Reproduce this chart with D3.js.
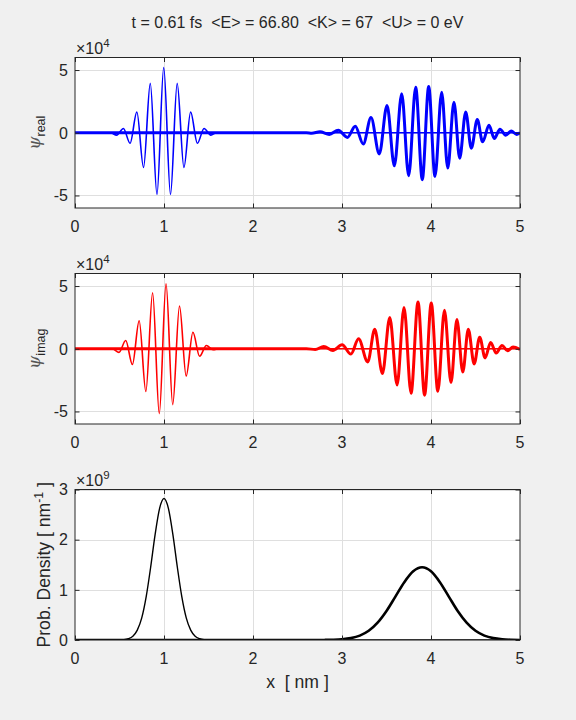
<!DOCTYPE html>
<html>
<head>
<meta charset="utf-8">
<script src="https://cdn.jsdelivr.net/npm/d3@7"></script>
<style>
  body { margin: 0; background: #f0f0f0; }
  svg { display: block; }
  text { font-family: 'Liberation Sans', Arial, sans-serif; fill: #262626; white-space: pre; }
</style>
</head>
<body>
<svg id="fig" width="576" height="720"></svg>
<script>
;(function (d3) {
  var titleText = 't = 0.61 fs  <E> = 66.80  <K> = 67  <U> = 0 eV'
  var xTicks = [0, 1, 2, 3, 4, 5]
  var psiTicks = [-5, 0, 5]
  var probTicks = [0, 1, 2, 3]

  // wave extrema (units of 1e4)
  var realInitX = [0, 0.40, 0.468, 0.544, 0.619, 0.695, 0.770, 0.846, 0.921, 0.997, 1.073, 1.148, 1.224, 1.299, 1.375, 1.450, 1.526, 1.59, 5]
  var realInitY = [0, 0, -0.19, 0.34, -0.84, 1.65, -2.77, 3.94, -4.92, 5.2, -4.92, 3.94, -2.77, 1.65, -0.84, 0.34, -0.19, 0, 0]
  var realNowX = [0, 2.60, 2.66, 2.753, 2.857, 2.958, 3.06, 3.149, 3.239, 3.326, 3.419, 3.506, 3.588, 3.671, 3.749, 3.828, 3.902, 3.974, 4.045, 4.12, 4.188, 4.258, 4.322, 4.39, 4.453, 4.52, 4.58, 4.652, 4.711, 4.775, 4.839, 4.902, 4.963, 5.0]
  var realNowY = [0, 0, -0.04, 0.07, -0.13, 0.2, -0.37, 0.52, -0.9, 1.21, -1.69, 2.18, -2.64, 3.1, -3.43, 3.62, -3.74, 3.68, -3.48, 3.23, -2.82, 2.44, -2.03, 1.65, -1.24, 1.05, -0.72, 0.6, -0.45, 0.28, -0.19, 0.13, -0.13, 0]

  var imagInitX = [0, 0.42, 0.494, 0.570, 0.645, 0.721, 0.796, 0.872, 0.947, 1.023, 1.098, 1.174, 1.249, 1.325, 1.400, 1.476, 1.551, 1.62, 5]
  var imagInitY = [0, 0, -0.29, 0.66, -1.26, 2.23, -3.41, 4.46, -5.17, 5.17, -4.46, 3.41, -2.18, 1.31, -0.6, 0.26, -0.08, 0, 0]
  var imagNowX = [0, 2.60, 2.70, 2.795, 2.898, 3.001, 3.1, 3.186, 3.289, 3.368, 3.454, 3.537, 3.619, 3.697, 3.776, 3.854, 3.928, 4.003, 4.077, 4.151, 4.225, 4.291, 4.357, 4.419, 4.485, 4.547, 4.608, 4.67, 4.732, 4.798, 4.86, 4.922, 5.0]
  var imagNowY = [0, 0, -0.06, 0.18, -0.13, 0.31, -0.42, 0.79, -1.05, 1.55, -1.97, 2.49, -2.89, 3.28, -3.54, 3.73, -3.7, 3.65, -3.39, 3.07, -2.7, 2.34, -1.86, 1.55, -1.21, 0.92, -0.73, 0.5, -0.34, 0.26, -0.16, 0.13, -0.05]

  // probability density (units of 1e9)
  var probInitX = [0, 0.45, 0.5, 0.55, 0.6, 0.65, 0.7, 0.75, 0.8, 0.85, 0.9, 0.95, 1.0, 1.05, 1.1, 1.15, 1.2, 1.25, 1.3, 1.35, 1.4, 1.45, 1.5, 1.55, 5]
  var probInitY = [0, 0, 0.002, 0.007, 0.025, 0.075, 0.197, 0.44, 0.864, 1.45, 2.10, 2.62, 2.82, 2.62, 2.10, 1.45, 0.864, 0.44, 0.197, 0.075, 0.025, 0.007, 0.002, 0, 0]
  var probNowX = [0, 2.6, 2.7, 2.8, 2.9, 3.0, 3.1, 3.2, 3.3, 3.4, 3.5, 3.6, 3.7, 3.8, 3.9, 4.0, 4.1, 4.2, 4.3, 4.4, 4.5, 4.6, 4.7, 4.8, 4.9, 5.0]
  var probNowY = [0, 0, 0.0004, 0.0014, 0.0046, 0.014, 0.037, 0.087, 0.183, 0.345, 0.578, 0.865, 1.152, 1.369, 1.45, 1.369, 1.152, 0.865, 0.578, 0.345, 0.183, 0.087, 0.037, 0.014, 0.0046, 0.0014]

  var left = 75
  var right = 520
  var panelH = 150.5
  var axColor = '#262626'

  var svg = d3.select('#fig')
  svg.append('rect').attr('width', 576).attr('height', 720).attr('fill', '#f0f0f0')

  var x = d3.scaleLinear().domain([0, 5]).range([left, right])

  function zip (xs, ys) {
    return xs.map(function (v, i) { return [v, ys[i]] })
  }

  function panel (idx, top, yDomain, yTicks, expo, series) {
    var bottom = top + panelH
    var y = d3.scaleLinear().domain(yDomain).range([bottom, top])
    var g = svg.append('g')

    g.append('clipPath').attr('id', 'clip' + idx)
      .append('rect').attr('x', left).attr('y', top)
      .attr('width', right - left).attr('height', panelH)

    g.append('rect').attr('x', left).attr('y', top)
      .attr('width', right - left).attr('height', panelH)
      .attr('fill', '#fff')

    // grid
    g.selectAll('.gx').data(xTicks.slice(1, -1)).enter().append('line')
      .attr('x1', function (d) { return Math.round(x(d)) + 0.5 })
      .attr('x2', function (d) { return Math.round(x(d)) + 0.5 })
      .attr('y1', top).attr('y2', bottom)
      .attr('stroke', '#dfdfdf')
    g.selectAll('.gy').data(yTicks).enter().append('line')
      .attr('x1', left).attr('x2', right)
      .attr('y1', function (d) { return Math.round(y(d)) + 0.5 })
      .attr('y2', function (d) { return Math.round(y(d)) + 0.5 })
      .attr('stroke', '#dfdfdf')

    var line = d3.line()
      .x(function (d) { return x(d[0]) })
      .y(function (d) { return y(d[1]) })
      .curve(d3.curveMonotoneX)

    var lines = g.append('g').attr('clip-path', 'url(#clip' + idx + ')')
    series.forEach(function (s) {
      lines.append('path')
        .attr('d', line(zip(s.xs, s.ys)))
        .attr('fill', 'none')
        .attr('stroke', s.color)
        .attr('stroke-width', s.width)
        .attr('stroke-linejoin', 'round')
    })

    // axes via d3 axis generators, ticks pointing inward
    var axB = d3.axisBottom(x).tickValues(xTicks).tickSize(-4.5).tickFormat('')
    var axT = d3.axisTop(x).tickValues(xTicks).tickSize(-4.5).tickFormat('')
    var axL = d3.axisLeft(y).tickValues(yTicks).tickSize(-4.5).tickFormat('')
    var axR = d3.axisRight(y).tickValues(yTicks).tickSize(-4.5).tickFormat('')
    ;[[axB, 'translate(0,' + bottom + ')'], [axT, 'translate(0,' + top + ')'],
      [axL, 'translate(' + left + ',0)'], [axR, 'translate(' + right + ',0)']].forEach(function (a) {
      var ag = g.append('g').attr('transform', a[1]).call(a[0])
      ag.select('.domain').remove()
      ag.selectAll('line').attr('stroke', axColor)
    })

    g.append('rect').attr('x', left).attr('y', top)
      .attr('width', right - left).attr('height', panelH)
      .attr('fill', 'none').attr('stroke', axColor).attr('stroke-width', 1)

    // tick labels
    g.selectAll('.xl').data(xTicks).enter().append('text')
      .attr('x', function (d) { return x(d) })
      .attr('y', bottom + 24)
      .attr('text-anchor', 'middle')
      .style('font-size', '16px')
      .text(function (d) { return d })
    g.selectAll('.yl').data(yTicks).enter().append('text')
      .attr('x', left - 7)
      .attr('y', function (d) { return y(d) })
      .attr('dy', '0.36em')
      .attr('text-anchor', 'end')
      .style('font-size', '16px')
      .text(function (d) { return d })

    // exponent
    var ex = g.append('text').attr('x', left + 1).attr('y', top - 4).style('font-size', '16px')
    ex.append('tspan').text('\u00d710')
    ex.append('tspan').attr('dy', -7).style('font-size', '11.5px').text(expo)

    return { y: y, top: top, bottom: bottom }
  }

  var p1 = panel(1, 57.5, [-6, 6], psiTicks, '4', [
    { xs: realNowX, ys: realNowY, color: '#0000ff', width: 3 },
    { xs: realInitX, ys: realInitY, color: '#0000ff', width: 1.6 }
  ])
  var p2 = panel(2, 273.5, [-6, 6], psiTicks, '4', [
    { xs: imagNowX, ys: imagNowY, color: '#ff0000', width: 3 },
    { xs: imagInitX, ys: imagInitY, color: '#ff0000', width: 1.6 }
  ])
  var p3 = panel(3, 489.5, [0, 3], probTicks, '9', [
    { xs: probNowX, ys: probNowY, color: '#000000', width: 2.6 },
    { xs: probInitX, ys: probInitY, color: '#000000', width: 1.4 }
  ])

  // title
  svg.append('text')
    .attr('x', (left + right) / 2).attr('y', 28)
    .attr('text-anchor', 'middle')
    .style('font-size', '16px')
    .text(titleText)

  // y labels
  function psiLabel (p, sub) {
    var t = svg.append('text')
      .attr('transform', 'translate(40,' + ((p.top + p.bottom) / 2) + ') rotate(-90)')
      .attr('text-anchor', 'middle')
    t.append('tspan').style('font-family', "'DejaVu Serif', serif").style('font-style', 'italic')
      .style('font-size', '17px').style('fill', '#555').text('\u03c8')
    t.append('tspan').attr('dy', 5).style('font-size', '12.5px').text(sub)
  }
  psiLabel(p1, 'real')
  psiLabel(p2, 'imag')

  var pl = svg.append('text')
    .attr('transform', 'translate(50,' + ((p3.top + p3.bottom) / 2) + ') rotate(-90)')
    .attr('text-anchor', 'middle')
    .style('font-size', '17.6px')
  pl.append('tspan').text('Prob. Density [ nm')
  pl.append('tspan').attr('dy', -7).style('font-size', '12.3px').text('-1')
  pl.append('tspan').attr('dy', 7).text(' ]')

  // x label
  svg.append('text')
    .attr('x', (left + right) / 2).attr('y', 688)
    .attr('text-anchor', 'middle')
    .style('font-size', '17.6px')
    .text('x  [ nm ]')
})(window.d3)
</script>
</body>
</html>
